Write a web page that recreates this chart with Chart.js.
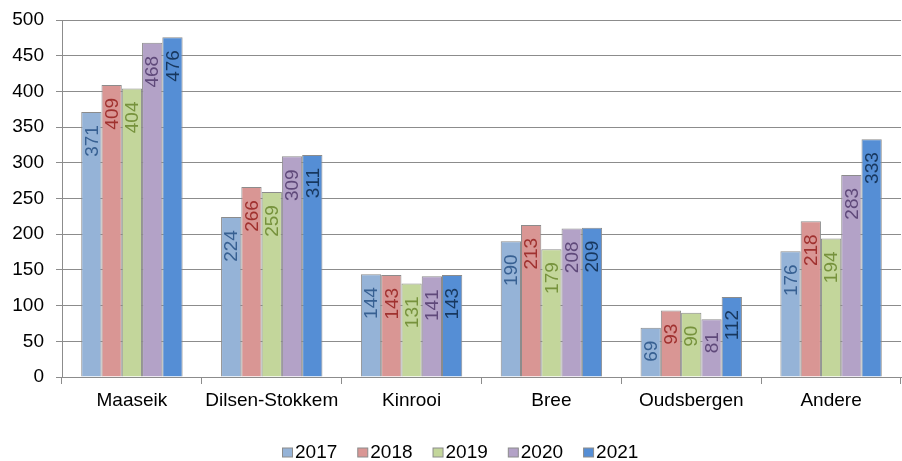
<!DOCTYPE html>
<html>
<head>
<meta charset="utf-8">
<script src="https://cdn.jsdelivr.net/npm/chart.js@4/dist/chart.umd.min.js"></script>
<style>
  html, body { margin: 0; padding: 0; background: #fff; }
  #wrap { width: 902px; height: 461px; }
</style>
</head>
<body>
<div id="wrap"><canvas id="c" width="902" height="461"></canvas></div>
<script>
const categories = ['Maaseik', 'Dilsen-Stokkem', 'Kinrooi', 'Bree', 'Oudsbergen', 'Andere'];
const years = ['2017', '2018', '2019', '2020', '2021'];
const v2017 = [371, 224, 144, 190, 69, 176];
const v2018 = [409, 266, 143, 213, 93, 218];
const v2019 = [404, 259, 131, 179, 90, 194];
const v2020 = [468, 309, 141, 208, 81, 283];
const v2021 = [476, 311, 143, 209, 112, 333];
const yTicks = [0, 50, 100, 150, 200, 250, 300, 350, 400, 450, 500];

const fillColors = ['#95B3D7', '#D99694', '#C3D69B', '#B3A2C7', '#558ED5'];
const labelColors = ['#376092', '#A0312F', '#76923C', '#5F497A', '#17375E'];
const edgeColor = '#8C8C8C';
const FONT = '"Liberation Sans", Arial, sans-serif';
const FONT_SIZE = 19;

const series = [v2017, v2018, v2019, v2020, v2021];

// value labels, rotated, just inside the top of each bar
const barLabels = {
  id: 'barLabels',
  afterDatasetsDraw(chart) {
    const ctx = chart.ctx;
    ctx.save();
    ctx.font = FONT_SIZE + 'px ' + FONT;
    chart.data.datasets.forEach((ds, di) => {
      const meta = chart.getDatasetMeta(di);
      meta.data.forEach((bar, i) => {
        ctx.save();
        ctx.translate(bar.x, bar.y + 13);
        ctx.rotate(-Math.PI / 2);
        ctx.textAlign = 'right';
        ctx.textBaseline = 'middle';
        ctx.fillStyle = labelColors[di];
        ctx.fillText(String(ds.data[i]), 0, 1);
        ctx.restore();
      });
    });
    ctx.restore();
  }
};

// compact legend row under the axis
const bottomLegend = {
  id: 'bottomLegend',
  afterDraw(chart) {
    const ctx = chart.ctx;
    ctx.save();
    ctx.font = FONT_SIZE + 'px ' + FONT;
    const box = 10, boxH = 9, gap = 3, spacing = 20;
    const items = chart.data.datasets.map((ds, i) => ({
      text: ds.label, color: fillColors[i], w: ctx.measureText(ds.label).width
    }));
    let total = 0;
    items.forEach((it, i) => { total += box + gap + it.w + (i ? spacing : 0); });
    let x = Math.round(460 - total / 2);
    const cy = 452;
    items.forEach(it => {
      ctx.fillStyle = it.color;
      ctx.fillRect(x + 0.5, cy - boxH / 2 + 0.5, box, boxH);
      ctx.strokeStyle = edgeColor;
      ctx.lineWidth = 1;
      ctx.strokeRect(x + 0.5, cy - boxH / 2 + 0.5, box, boxH);
      ctx.fillStyle = '#000';
      ctx.textAlign = 'left';
      ctx.textBaseline = 'middle';
      ctx.fillText(it.text, x + box + gap, cy + 1);
      x += box + gap + it.w + spacing;
    });
    ctx.restore();
  }
};

new Chart(document.getElementById('c'), {
  type: 'bar',
  data: {
    labels: categories,
    datasets: years.map((y, i) => ({
      label: y,
      data: series[i],
      backgroundColor: fillColors[i],
      borderColor: edgeColor,
      borderWidth: 1,
      borderSkipped: 'bottom',
      categoryPercentage: 0.725,
      barPercentage: 1.0
    }))
  },
  options: {
    responsive: false,
    animation: false,
    devicePixelRatio: 1,
    layout: { padding: { top: 20, right: 1, bottom: 44, left: 0 } },
    plugins: {
      legend: { display: false },
      tooltip: { enabled: false }
    },
    scales: {
      x: {
        grid: {
          offset: true,
          drawOnChartArea: false,
          drawTicks: true,
          tickLength: 7,
          color: edgeColor
        },
        border: { color: edgeColor, width: 1 },
        ticks: {
          color: '#000',
          font: { family: FONT, size: FONT_SIZE },
          padding: 5,
          maxRotation: 0,
          autoSkip: false
        },
        afterFit(scale) { scale.height = 40; }
      },
      y: {
        min: 0,
        max: 500,
        afterBuildTicks(scale) { scale.ticks = yTicks.map(v => ({ value: v })); },
        grid: {
          color: edgeColor,
          drawTicks: true,
          tickLength: 6
        },
        border: { color: edgeColor, width: 1 },
        ticks: {
          color: '#000',
          font: { family: FONT, size: FONT_SIZE },
          padding: 12
        },
        afterFit(scale) {
          scale.width = 62;
          scale.paddingTop = 0;
          scale.paddingBottom = 0;
        }
      }
    }
  },
  plugins: [barLabels, bottomLegend]
});
</script>
</body>
</html>
